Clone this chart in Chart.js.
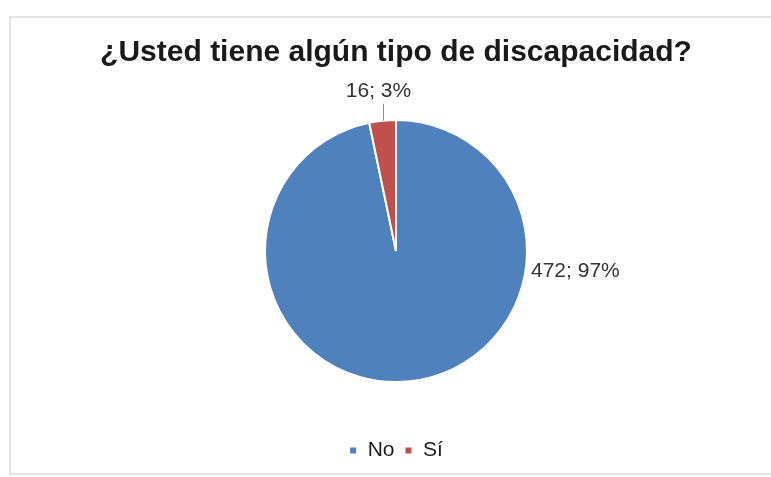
<!DOCTYPE html>
<html>
<head>
<meta charset="utf-8">
<script src="https://cdn.jsdelivr.net/npm/chart.js@4/dist/chart.umd.min.js"></script>
<style>
  html, body { margin: 0; padding: 0; background: #fff; }
  #wrap { position: relative; width: 771px; height: 477px; overflow: hidden; }
  #frame {
    position: absolute; left: 9px; top: 16px; width: 800px; height: 455px;
    border: 2px solid #e4e4e4;
  }
  canvas { position: absolute; left: 0; top: 0; }
</style>
</head>
<body>
<div id="wrap">
  <div id="frame"></div>
  <canvas id="pieChart" width="771" height="477"></canvas>
</div>
<script>
const categories = ["No", "Sí"];
const counts = [472, 16];
const percentLabels = ["97%", "3%"];
const sliceColors = ["#4f81bd", "#c0504d"];

// value labels: "472; 97%" to the right, "16; 3%" above with a leader line
const valueLabels = {
  id: "valueLabels",
  afterDatasetsDraw(chart) {
    const ctx = chart.ctx;
    const arcs = chart.getDatasetMeta(0).data;
    ctx.save();
    ctx.font = "21px 'Liberation Sans', Arial, sans-serif";
    ctx.fillStyle = "#333333";
    ctx.textBaseline = "middle";
    arcs.forEach((arc, i) => {
      const text = counts[i] + "; " + percentLabels[i];
      const mid = (arc.startAngle + arc.endAngle) / 2;
      if (i === 0) {
        ctx.textAlign = "left";
        ctx.fillText(text, arc.x + arc.outerRadius + 4, arc.y + 20);
      } else {
        const lx = arc.x + Math.cos(mid) * arc.outerRadius;
        const ly = arc.y + Math.sin(mid) * arc.outerRadius;
        ctx.strokeStyle = "#8c8c8c";
        ctx.lineWidth = 1;
        ctx.beginPath();
        ctx.moveTo(Math.round(lx) + 0.5, ly);
        ctx.lineTo(Math.round(lx) + 0.5, ly - 17);
        ctx.stroke();
        ctx.textAlign = "center";
        ctx.fillText(text, lx - 4, ly - 29);
      }
    });
    ctx.restore();
  }
};

new Chart(document.getElementById("pieChart"), {
  type: "pie",
  data: {
    labels: categories,
    datasets: [{
      data: counts,
      backgroundColor: sliceColors,
      borderColor: "#ffffff",
      borderWidth: 2
    }]
  },
  options: {
    responsive: false,
    animation: false,
    radius: 131,
    layout: { padding: { top: 35, bottom: 6, left: 21, right: 0 } },
    plugins: {
      title: {
        display: true,
        text: "¿Usted tiene algún tipo de discapacidad?",
        color: "#1a1a1a",
        font: { family: "'Liberation Sans', Arial, sans-serif", size: 30, weight: "bold", lineHeight: 1.2 },
        padding: { top: 0, bottom: 1 }
      },
      legend: {
        position: "bottom",
        labels: {
          color: "#1a1a1a",
          font: { family: "'Liberation Sans', Arial, sans-serif", size: 21 },
          boxWidth: 8,
          boxHeight: 8,
          padding: 10
        }
      },
      tooltip: { enabled: false }
    }
  },
  plugins: [valueLabels]
});
</script>
</body>
</html>
